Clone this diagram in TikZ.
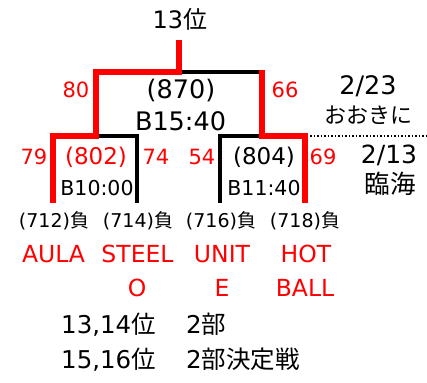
\documentclass[tikz,border=0pt]{standalone}
\usepackage{fontspec}
\setmainfont{DejaVu Sans}
\newfontfamily\jp{Noto Sans CJK JP}
\usetikzlibrary{positioning}
\newcommand{\fs}[1]{\fontsize{#1}{#1}\selectfont}
\newcommand{\loser}[3]{
	\node[anchor=base, font=\fs{19}] (lose_#1) at (#2,227) {(#3)\jp 負};
}
\tikzset{
	winline/.style={draw=red, line width=5.5pt, line join=miter},
	loseline/.style={draw=black, line width=3.5pt},
	score/.style={anchor=base, text=red, font=\fs{21}},
	teamname/.style={anchor=base, text=red, font=\fs{23.5}},
}

\begin{document}
\begin{tikzpicture}[x=1pt, y=-1pt]
	\useasboundingbox (0,0) rectangle (427,382);

	% bracket corners
	\coordinate (top) at (179,40);
	\coordinate (final) at (179,72);
	\coordinate (semi_l) at (96,72);
	\coordinate (semi_r) at (262,72);
	\coordinate (semi_r0) at (262,70.5);
	\coordinate (fork_l) at (96,136);
	\coordinate (fork_r) at (262,136);
	\coordinate (leg_a) at (53,136);
	\coordinate (foot_a) at (53,203);
	\coordinate (leg_b) at (137,136);
	\coordinate (foot_b) at (137,203);
	\coordinate (leg_c) at (220,136);
	\coordinate (foot_c) at (220,203);
	\coordinate (leg_d) at (305,136);
	\coordinate (foot_d) at (305,203);
	\coordinate (dots_st) at (310,136);
	\coordinate (dots_end) at (427,136);

	\draw[loseline] (final) -- (semi_r);
	\draw[loseline] (fork_l) -- (leg_b) -- (foot_b);
	\draw[loseline] (fork_r) -- (leg_c) -- (foot_c);
	\draw[winline] (top) -- (final) -- (semi_l) -- (fork_l) -- (leg_a) -- (foot_a);
	\draw[winline] (semi_r0) -- (fork_r) -- (leg_d) -- (foot_d);
	\draw[dotted, line width=1.5pt] (dots_st) -- (dots_end);

	\node[anchor=base, font=\fs{24}] (rank) at (180,29) {13\jp 位};

	% final
	\node[anchor=base, font=\fs{25.5}] (game_f) at (181,99) {(870)};
	\node[anchor=base, font=\fs{25.5}] (time_f) at (180.5,130) {B15:40};
	\node[score] (sc_fl) at (76,98) {80};
	\node[score] (sc_fr) at (285,98) {66};
	\node[anchor=base, font=\fs{25.5}] (date_f) at (368,95) {2/23};
	\node[anchor=base, font=\jp\fs{22}] (venue_f) at (368,124) {おおきに};

	% first round
	\node[anchor=base, text=red, font=\fs{23}] (game_l) at (96,164) {(802)};
	\node[anchor=base, font=\fs{23}] (game_r) at (264,164) {(804)};
	\node[anchor=base, font=\fs{20.5}] (time_l) at (97,195) {B10:00};
	\node[anchor=base, font=\fs{20.5}] (time_r) at (264,195) {B11:40};
	\node[score] (sc_a) at (34,164) {79};
	\node[score] (sc_b) at (156,164) {74};
	\node[score] (sc_c) at (202,164) {54};
	\node[score] (sc_d) at (323,164) {69};
	\node[anchor=base, font=\fs{25}] (date_s) at (389,163) {2/13};
	\node[anchor=base, font=\jp\fs{25.5}] (venue_s) at (390,193) {臨海};

	\loser{a}{54}{712}
	\loser{b}{138}{714}
	\loser{c}{221}{716}
	\loser{d}{305}{718}

	\node[teamname] (team_a) at (53.5,262) {AULA};
	\node[teamname] (team_b) at (137.5,262) {STEEL};
	\node[teamname] (team_b2) at (137,296) {O};
	\node[teamname] (team_c) at (222,262) {UNIT};
	\node[teamname] (team_c2) at (222,296) {E};
	\node[teamname] (team_d) at (306,262) {HOT};
	\node[teamname] (team_d2) at (305,296) {BALL};

	% notes
	\node[anchor=base west, inner sep=0pt, font=\fs{24.5}] (note_1) at (61,333) {13,14\jp 位};
	\node[anchor=base west, inner sep=0pt, font=\fs{24.5}] (note_1b) at (186,333) {2\jp 部};
	\node[anchor=base west, inner sep=0pt, font=\fs{24.5}] (note_2) at (61,368) {15,16\jp 位};
	\node[anchor=base west, inner sep=0pt, font=\fs{24.5}] (note_2b) at (186,368) {2\jp 部決定戦};
\end{tikzpicture}
\end{document}
